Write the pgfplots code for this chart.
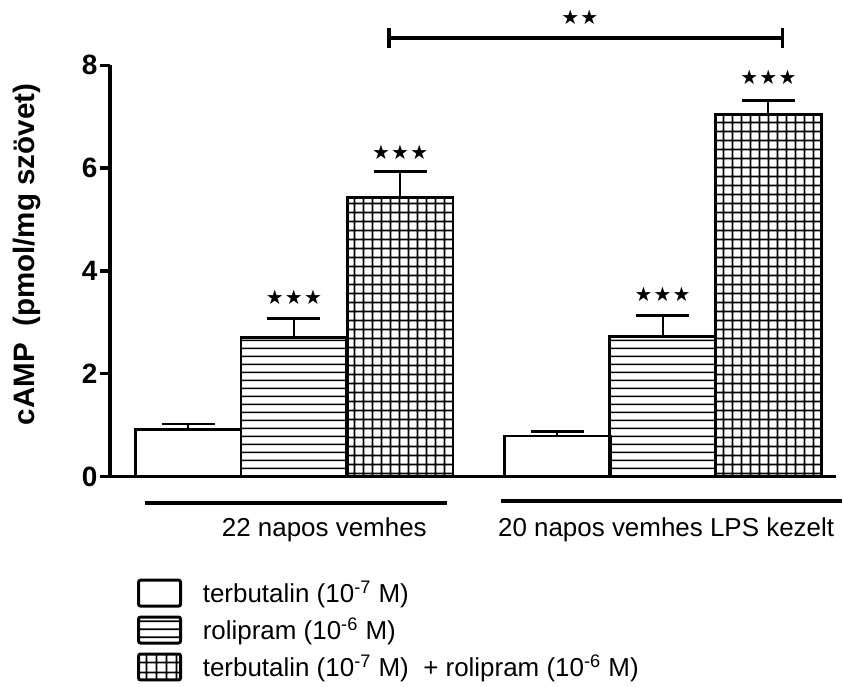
\documentclass[border=0pt]{standalone}
\usepackage{fontspec}
\setmainfont{Liberation Sans}
\newfontfamily\starfont{DejaVu Sans}
\usepackage{pgfplots}
\pgfplotsset{compat=1.18}
\usetikzlibrary{patterns.meta}
\pgfdeclarepattern{
  name=hlines,
  bottom left={\pgfpoint{0pt}{0pt}},
  top right={\pgfpoint{3.85pt}{3.85pt}},
  tile size={\pgfpoint{3.85pt}{3.85pt}},
  code={\pgfsetlinewidth{0.8pt}
    \pgfpathmoveto{\pgfpoint{-0.5pt}{1.925pt}}\pgfpathlineto{\pgfpoint{4.35pt}{1.925pt}}
    \pgfusepath{stroke}}
}
\pgfdeclarepattern{
  name=gridpat,
  bottom left={\pgfpoint{0pt}{0pt}},
  top right={\pgfpoint{4.75pt}{4.75pt}},
  tile size={\pgfpoint{4.75pt}{4.75pt}},
  code={\pgfsetlinewidth{0.9pt}
    \pgfpathmoveto{\pgfpoint{-0.5pt}{2.375pt}}\pgfpathlineto{\pgfpoint{5.25pt}{2.375pt}}
    \pgfpathmoveto{\pgfpoint{2.375pt}{-0.5pt}}\pgfpathlineto{\pgfpoint{2.375pt}{5.25pt}}
    \pgfusepath{stroke}}
}
\newcommand{\three}{{\starfont\fontsize{10}{11}\selectfont ★\kern0.6pt★\kern0.6pt★}}
\newcommand{\two}{{\starfont\fontsize{10}{11}\selectfont ★\kern0.6pt★}}
\pgfplotsset{
  mybar/.style={ybar, bar width=106, bar shift=0pt, draw=black, line width=1.35pt,
    error bars/.cd, y dir=plus, y explicit, error mark=|,
    error bar style={line width=1pt, black},
    error mark options={line width=1.4pt, mark size=13.3pt, black},
    /pgfplots/.cd,
    legend image code/.code={\draw[line width=1.5pt, rounded corners=1pt] (0pt,-6.5pt) rectangle (21pt,6.5pt); \node[anchor=west] at (21pt,0) {\hspace*{10.5pt}};}},
}
\begin{document}
\begin{tikzpicture}
\begin{axis}[
  scale only axis,
  width=364pt, height=206pt,
  xmin=110, xmax=838, ymin=0, ymax=8,
  enlargelimits=false,
  clip=false,
  axis x line=bottom, axis y line=left,
  axis line style={-, line width=1.75pt, black},
  xtick=\empty,
  ytick={0,2,4,6,8},
  tick align=outside,
  major tick length=5pt,
  tick style={line width=1.75pt, black},
  /pgf/number format/assume math mode=true,
  yticklabel={\pgfmathprintnumber{\tick}},
  yticklabel style={font=\bfseries\fontsize{14}{15}\selectfont, inner sep=1pt},
  ylabel={cAMP\ \ (pmol/mg szövet)},
  ylabel style={at={(axis cs:110,4.32)}, anchor=center, yshift=41.5pt, font=\bfseries\fontsize{14.8}{17}\selectfont},
  legend style={at={(axis cs:137,-1.98)}, anchor=north west, draw=none, fill=none,
    font=\fontsize{13}{15}\selectfont, row sep=4pt, column sep=0pt, inner sep=0pt,
    nodes={inner sep=0pt}},
  legend cell align=left,
]
% invisible frame for the page size
\path (axis cs:0,9.272) rectangle (axis cs:844,-4.087);

\addplot[mybar, fill=white]
  coordinates {(188.5,0.91) +- (0,0.11) (558.5,0.79) +- (0,0.09)};
\addlegendentry{terbutalin (10\textsuperscript{-7} M)}

\addplot[mybar, pattern=hlines]
  coordinates {(294.5,2.70) +- (0,0.37) (664,2.73) +- (0,0.41)};
\addlegendentry{rolipram (10\textsuperscript{-6} M)}

\addplot[mybar, pattern=gridpat]
  coordinates {(401,5.43) +- (0,0.50) (770,7.05) +- (0,0.27)};
\addlegendentry{terbutalin (10\textsuperscript{-7} M)\ \ + rolipram (10\textsuperscript{-6} M)}

% significance stars
\node at (axis cs:294.5,3.485) {\three};
\node at (axis cs:401,6.30) {\three};
\node at (axis cs:664,3.54) {\three};
\node at (axis cs:770,7.76) {\three};
% bracket
\draw[line width=1.75pt] (axis cs:390,8.534) -- (axis cs:784,8.534);
\draw[line width=1.75pt] (axis cs:390,8.728) -- (axis cs:390,8.34);
\draw[line width=1.75pt] (axis cs:784,8.728) -- (axis cs:784,8.34);
\node at (axis cs:581,8.94) {\two};
% group lines and labels
\draw[line width=1.75pt] (axis cs:145,-0.515) -- (axis cs:448,-0.515);
\draw[line width=1.75pt] (axis cs:502,-0.476) -- (axis cs:844,-0.476);
\node[font=\fontsize{13}{15}\selectfont] at (axis cs:325,-1.04) {22 napos vemhes};
\node[font=\fontsize{13}{15}\selectfont] at (axis cs:667.5,-1.04) {20 napos vemhes LPS kezelt};
\end{axis}
\end{tikzpicture}
\end{document}
